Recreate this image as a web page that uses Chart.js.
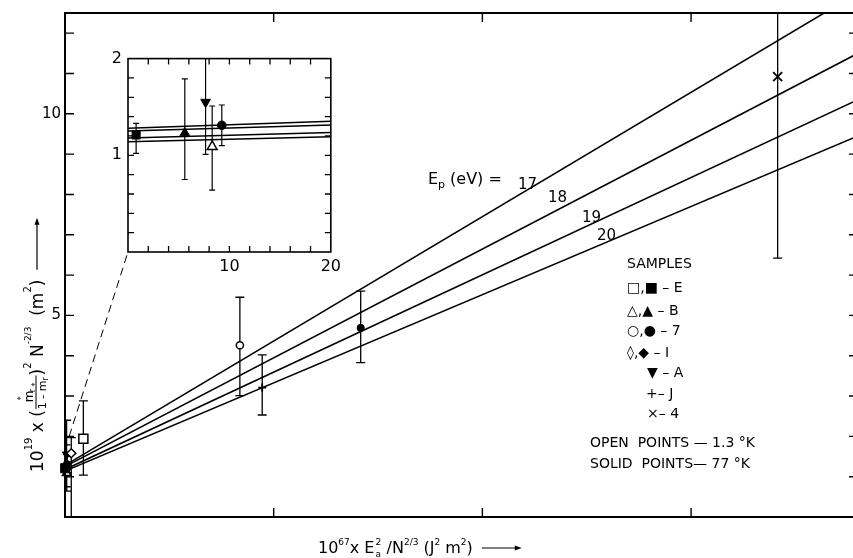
<!DOCTYPE html>
<html>
<head>
<meta charset="utf-8">
<title>Ep lines</title>
<script src="https://cdn.jsdelivr.net/npm/chart.js@4/dist/chart.umd.min.js"></script>
<style>
  html, body { margin: 0; padding: 0; background: #fff; overflow: hidden; }
  #wrap { position: relative; width: 853px; height: 558px; overflow: hidden; background: #fff; }
  #mainChart { position: absolute; left: 0; top: 0; }
  #insetChart { position: absolute; left: 96px; top: 43px; }
</style>
</head>
<body>
<div id="wrap">
  <canvas id="mainChart" width="870" height="558"></canvas>
  <canvas id="insetChart" width="250" height="236"></canvas>
</div>
<script>
// theory lines, one per Ep (eV), given by their ends at x = 0 and x = 3800
const epValues = [17, 18, 19, 20]
const lineX = [0, 3800]
const lineStartY = [1.28, 1.25, 1.18, 1.14]
const lineEndY = [13.0, 11.5, 10.35, 9.45]

// main axes
const xTicks = [1000, 2000, 3000]
const xLabels = [1000, 3000]
const yTicks = [1, 2, 3, 4, 5, 6, 7, 8, 9, 10, 11, 12]
const yLabels = [5, 10]

// inset axes
const insetXTicks = [2, 4, 6, 8, 10, 12, 14, 16, 18]
const insetXLabels = [10, 20]
const insetYTicks = [0.2, 0.4, 0.6, 0.8, 1, 1.2, 1.4, 1.6, 1.8]
const insetYLabels = [1, 2]

// samples: open points 1.3 K, solid points 77 K
const eOpenX = [88], eOpenY = [1.94], eOpenLo = [1.04], eOpenHi = [2.88]
const eSolidX = [0.8], eSolidY = [1.21], eSolidLo = [1.02], eSolidHi = [1.33]
const bOpenX = [8.3], bOpenY = [1.09], bOpenLo = [0.64], bOpenHi = [1.51]
const bSolidX = [5.6], bSolidY = [1.23], bSolidLo = [0.75], bSolidHi = [1.79]
const s7OpenX = [838], s7OpenY = [4.26], s7OpenLo = [3.01], s7OpenHi = [5.45]
const s7SolidX = [9.25, 1417], s7SolidY = [1.31, 4.69], s7SolidLo = [1.10, 3.83], s7SolidHi = [1.52, 5.60]
const iOpenX = [30], iOpenY = [1.58], iOpenLo = [-0.5], iOpenHi = [1.97]
const aX = [7.65], aY = [1.55], aLo = [1.01], aHi = [2.4]
const jX = [945], jY = [3.21], jLo = [2.53], jHi = [4.02]
const s4X = [3415], s4Y = [10.92], s4Lo = [6.42], s4Hi = [13.5]

Chart.defaults.font.family = '"DejaVu Sans", sans-serif'
Chart.defaults.color = '#000'

const FONT = '"DejaVu Sans", sans-serif'

const series = [
    { x: eOpenX, y: eOpenY, lo: eOpenLo, hi: eOpenHi, style: 'rect', open: true },
    { x: eSolidX, y: eSolidY, lo: eSolidLo, hi: eSolidHi, style: 'rect', open: false },
    { x: bOpenX, y: bOpenY, lo: bOpenLo, hi: bOpenHi, style: 'triangle', open: true },
    { x: bSolidX, y: bSolidY, lo: bSolidLo, hi: bSolidHi, style: 'triangle', open: false },
    { x: s7OpenX, y: s7OpenY, lo: s7OpenLo, hi: s7OpenHi, style: 'circle', open: true },
    { x: s7SolidX, y: s7SolidY, lo: s7SolidLo, hi: s7SolidHi, style: 'circle', open: false },
    { x: iOpenX, y: iOpenY, lo: iOpenLo, hi: iOpenHi, style: 'rectRot', open: true },
    { x: aX, y: aY, lo: aLo, hi: aHi, style: 'triangle', open: false, rot: 180 },
    { x: jX, y: jY, lo: jLo, hi: jHi, style: 'cross', open: true },
    { x: s4X, y: s4Y, lo: s4Lo, hi: s4Hi, style: 'crossRot', open: true }
]

function markerSets(sizes, clip) {
    return series.map(s => ({
        data: s.x.map((v, i) => ({ x: v, y: s.y[i] })),
        errLo: s.lo,
        errHi: s.hi,
        pointStyle: s.style,
        pointRotation: s.rot || 0,
        pointRadius: sizes[s.style],
        backgroundColor: s.open ? '#fff' : '#000',
        borderColor: '#000',
        pointBorderWidth: s.style.startsWith('cross') ? 1.8 : (s.open ? 1.5 : 1),
        clip: clip,
        order: 0
    }))
}

function lineSets(width) {
    return epValues.map((ep, i) => ({
        label: 'Ep ' + ep,
        data: [{ x: lineX[0], y: lineStartY[i] }, { x: lineX[1], y: lineEndY[i] }],
        showLine: true,
        borderColor: '#000',
        borderWidth: width,
        pointRadius: 0,
        order: 1
    }))
}

const errorBars = {
    id: 'errorBars',
    beforeDatasetsDraw(chart, args, o) {
        const { ctx, chartArea: a, scales: { x, y } } = chart
        ctx.save()
        ctx.beginPath()
        ctx.rect(a.left, a.top, a.right - a.left, a.bottom - a.top)
        ctx.clip()
        ctx.strokeStyle = '#000'
        ctx.lineWidth = o.width
        chart.data.datasets.forEach(ds => {
            if (!ds.errLo) return
            ds.data.forEach((p, i) => {
                const px = x.getPixelForValue(p.x)
                const top = y.getPixelForValue(ds.errHi[i])
                const bot = y.getPixelForValue(ds.errLo[i])
                ctx.beginPath()
                ctx.moveTo(px, top); ctx.lineTo(px, bot)
                ctx.moveTo(px - o.cap, top); ctx.lineTo(px + o.cap, top)
                ctx.moveTo(px - o.cap, bot); ctx.lineTo(px + o.cap, bot)
                ctx.stroke()
            })
        })
        ctx.restore()
    }
}

// frame with inward ticks on all four sides
const frameTicks = {
    id: 'frameTicks',
    afterDraw(chart, args, o) {
        const { ctx, chartArea: a, scales: { x, y } } = chart
        ctx.save()
        ctx.strokeStyle = '#000'
        ctx.lineWidth = o.tickWidth
        ctx.beginPath()
        o.xTicks.forEach(v => {
            const px = x.getPixelForValue(v)
            ctx.moveTo(px, a.bottom); ctx.lineTo(px, a.bottom - o.len)
            ctx.moveTo(px, a.top); ctx.lineTo(px, a.top + o.len)
        })
        o.yTicks.forEach(v => {
            const py = y.getPixelForValue(v)
            ctx.moveTo(a.left, py); ctx.lineTo(a.left + o.len, py)
            ctx.moveTo(a.right, py); ctx.lineTo(a.right - o.len, py)
        })
        ctx.stroke()
        ctx.lineWidth = o.frameWidth
        ctx.strokeRect(a.left, a.top, a.right - a.left, a.bottom - a.top)
        ctx.restore()
    }
}

function arrow(ctx, x1, y1, x2, y2) {
    ctx.beginPath()
    ctx.lineWidth = 1.2
    ctx.moveTo(x1, y1); ctx.lineTo(x2 - 4, y2)
    ctx.stroke()
    ctx.beginPath()
    ctx.moveTo(x2, y2); ctx.lineTo(x2 - 7, y2 - 2.5); ctx.lineTo(x2 - 7, y2 + 2.5)
    ctx.closePath()
    ctx.fill()
}

function writer(ctx, startX, baseY) {
    let cx = startX
    const put = (t, size, dy) => {
        ctx.font = size + 'px ' + FONT
        ctx.fillText(t, cx, baseY + (dy || 0))
        cx += ctx.measureText(t).width
    }
    put.at = () => cx
    put.skip = d => { cx += d }
    return put
}

function drawYTitle(ctx) {
    ctx.save()
    ctx.translate(43, 472)
    ctx.rotate(-Math.PI / 2)
    const put = writer(ctx, 0, 0)
    put('10', 17)
    put('19', 10, -11)
    put(' x (', 17)
    // fraction m*r / (1 - m*r)
    const fx = put.at() + 1
    ctx.font = '12px ' + FONT
    ctx.fillText('m', fx + 7, -10)
    ctx.font = '8px ' + FONT
    ctx.fillText('*', fx + 9, -19)
    ctx.fillText('r', fx + 17, -8)
    ctx.font = '11px ' + FONT
    ctx.fillText('1 - m', fx, 3)
    const dw = ctx.measureText('1 - m').width
    ctx.font = '8px ' + FONT
    ctx.fillText('*', fx + dw - 6, -5)
    ctx.fillText('r', fx + dw, 5)
    ctx.lineWidth = 1
    ctx.beginPath(); ctx.moveTo(fx, -7); ctx.lineTo(fx + dw + 5, -7); ctx.stroke()
    put.skip(dw + 6)
    put(')', 17)
    put('2', 10, -12)
    put(' N', 17)
    put('-2/3', 9, -12)
    put('  (m', 17)
    put('2', 10, -12)
    put(')', 17)
    const ax = put.at() + 10
    arrow(ctx, ax, -6, ax + 52, -6)
    ctx.restore()
}

function drawXTitle(ctx) {
    const put = writer(ctx, 318, 553)
    put('10', 16)
    put('67', 9, -8)
    put('x E', 16)
    const sx = put.at()
    ctx.font = '9px ' + FONT
    ctx.fillText('2', sx + 1, 545)
    ctx.fillText('a', sx + 1, 557)
    put.skip(7)
    put(' /N', 16)
    put('2/3', 9, -8)
    put(' (J', 16)
    put('2', 9, -8)
    put(' m', 16)
    put('2', 9, -8)
    put(')', 16)
    const ax = put.at() + 9
    arrow(ctx, ax, 548, ax + 40, 548)
}

// text anchors for the Ep labels, in data units of the main chart
const epLabelX = [2171, 2314, 2477, 2549]
const epLabelY = [8.14, 7.82, 7.32, 6.88]

const legendRows = [
    ['SAMPLES', 627, 268],
    ['\u25A1,\u25A0 \u2013 E', 627, 292],
    ['\u25B3,\u25B2 \u2013 B', 627, 315],
    ['\u25CB,\u25CF \u2013 7', 627, 335],
    ['\u25CA,\u25C6 \u2013 I', 627, 357],
    ['\u25BC \u2013 A', 647, 377],
    ['+\u2013 J', 646, 398],
    ['\u00D7\u2013 4', 647, 418],
    ['OPEN  POINTS \u2014 1.3 \u00B0K', 590, 447],
    ['SOLID  POINTS\u2014 77 \u00B0K', 590, 468]
]

const mainText = {
    id: 'mainText',
    afterDatasetsDraw(chart) {
        const { ctx, scales: { x, y } } = chart
        ctx.save()
        ctx.fillStyle = '#000'
        ctx.strokeStyle = '#000'
        ctx.textAlign = 'left'
        ctx.textBaseline = 'alphabetic'

        // dashed connector from the zoomed corner to the inset frame
        const ia = inset.chartArea
        const cv = inset.canvas
        ctx.setLineDash([8, 5])
        ctx.lineWidth = 1
        ctx.beginPath()
        ctx.moveTo(x.getPixelForValue(20), y.getPixelForValue(2))
        ctx.lineTo(cv.offsetLeft + ia.left, cv.offsetTop + ia.bottom)
        ctx.stroke()
        ctx.setLineDash([])

        drawYTitle(ctx)
        drawXTitle(ctx)

        const ex = x.getPixelForValue(1739), ey = y.getPixelForValue(8.26)
        const put = writer(ctx, ex, ey)
        put('E', 16)
        put('p', 11, 4)
        put(' (eV) =', 16)

        ctx.font = '15px ' + FONT
        epValues.forEach((ep, i) => {
            ctx.fillText(String(ep), x.getPixelForValue(epLabelX[i]), y.getPixelForValue(epLabelY[i]))
        })

        ctx.font = '14px ' + FONT
        legendRows.forEach(r => ctx.fillText(r[0], r[1], r[2]))
        ctx.restore()
    }
}

const inset = new Chart(document.getElementById('insetChart'), {
    type: 'scatter',
    data: {
        datasets: [
            ...markerSets({ rect: 5.7, triangle: 5.6, circle: 4.3, rectRot: 5, cross: 4, crossRot: 5 }, undefined),
            ...lineSets(1.5)
        ]
    },
    options: {
        responsive: false,
        animation: false,
        devicePixelRatio: 1,
        events: [],
        layout: { padding: { top: 10, right: 10, left: 0, bottom: 0 } },
        plugins: {
            legend: { display: false },
            tooltip: { enabled: false },
            errorBars: { width: 1.2, cap: 3 },
            frameTicks: { xTicks: insetXTicks, yTicks: insetYTicks, len: 6, tickWidth: 1.3, frameWidth: 1.6 }
        },
        scales: {
            x: {
                type: 'linear', min: 0, max: 20,
                afterFit: s => { s.height = 27 },
                grid: { display: false, drawTicks: false },
                border: { display: false },
                ticks: { stepSize: 10, autoSkip: false, maxRotation: 0, padding: 5, font: { size: 16 },
                    callback: v => insetXLabels.includes(v) ? String(v) : '' }
            },
            y: {
                type: 'linear', min: 0, max: 2,
                afterFit: s => { s.width = 32 },
                grid: { display: false, drawTicks: false },
                border: { display: false },
                ticks: { stepSize: 1, autoSkip: false, padding: 6, font: { size: 16 },
                    callback: v => insetYLabels.includes(v) ? String(v) : '' }
            }
        }
    },
    plugins: [errorBars, frameTicks]
})

const main = new Chart(document.getElementById('mainChart'), {
    type: 'scatter',
    data: {
        datasets: [
            ...markerSets({ rect: 6.4, triangle: 5, circle: 3.6, rectRot: 4.5, cross: 4, crossRot: 6.4 }, false),
            ...lineSets(1.6)
        ]
    },
    options: {
        responsive: false,
        animation: false,
        devicePixelRatio: 1,
        events: [],
        layout: { padding: { top: 10, right: 12, left: 0, bottom: 0 } },
        plugins: {
            legend: { display: false },
            tooltip: { enabled: false },
            errorBars: { width: 1.3, cap: 4.5 },
            frameTicks: { xTicks: xTicks, yTicks: yTicks, len: 9, tickWidth: 1.4, frameWidth: 2 }
        },
        scales: {
            x: {
                type: 'linear', min: 0, max: 3800,
                afterFit: s => { s.height = 41 },
                grid: { display: false, drawTicks: false },
                border: { display: false },
                ticks: { stepSize: 1000, autoSkip: false, maxRotation: 0, padding: 4, font: { size: 15 },
                    callback: v => xLabels.includes(v) ? String(v) : '' }
            },
            y: {
                type: 'linear', min: 0, max: 12.5,
                afterFit: s => { s.width = 65 },
                grid: { display: false, drawTicks: false },
                border: { display: false },
                ticks: { stepSize: 1, autoSkip: false, padding: 4, font: { size: 15 },
                    callback: v => yLabels.includes(v) ? String(v) : '' }
            }
        }
    },
    plugins: [errorBars, frameTicks, mainText]
})
</script>
</body>
</html>
